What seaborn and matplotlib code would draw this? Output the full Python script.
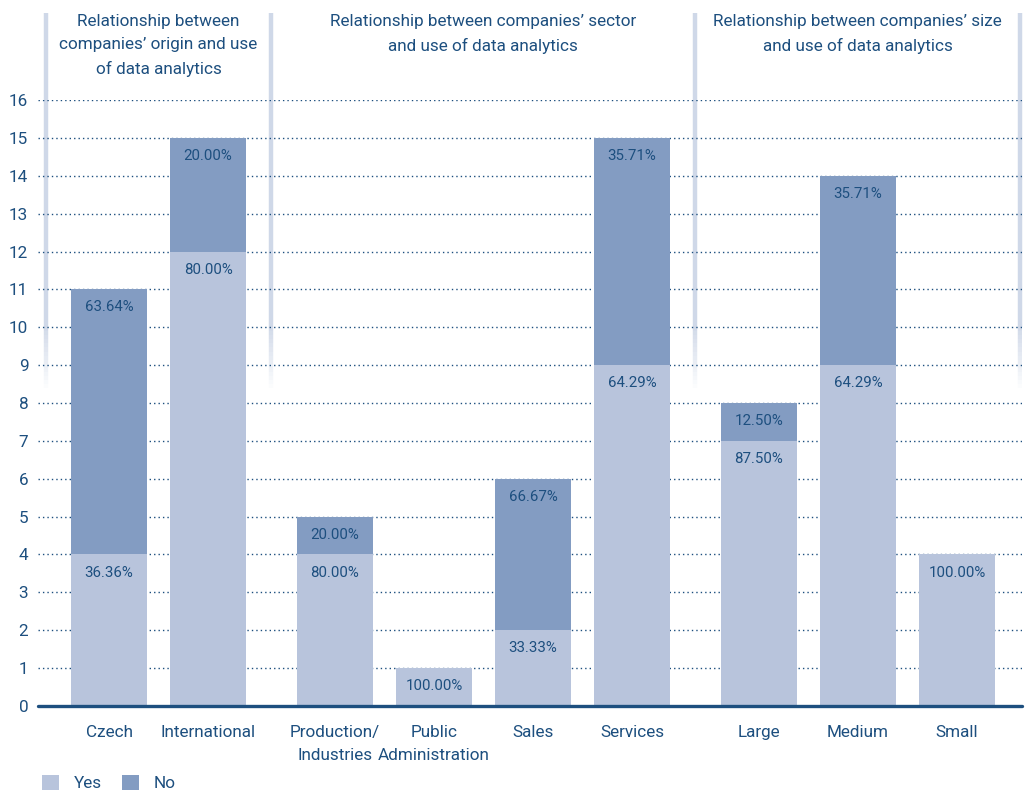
import numpy as np
import pandas as pd
import seaborn as sns
import matplotlib.pyplot as plt
from matplotlib.patches import Patch

# data
categories = ["Czech", "International",
              "Production/\nIndustries", "Public\nAdministration", "Sales", "Services",
              "Large", "Medium", "Small"]
groups = ["origin", "origin",
          "sector", "sector", "sector", "sector",
          "size", "size", "size"]
yes_counts = [4, 12, 4, 1, 2, 9, 7, 9, 4]
no_counts = [7, 3, 1, 0, 4, 6, 1, 5, 0]
# percentage labels as printed in the chart
yes_labels = ["36.36%", "80.00%", "80.00%", "100.00%", "33.33%", "64.29%",
              "87.50%", "64.29%", "100.00%"]
no_labels = ["63.64%", "20.00%", "20.00%", "", "66.67%", "35.71%",
             "12.50%", "35.71%", ""]
group_titles = {
    "origin": "Relationship between\ncompanies\u2019 origin and use\nof data analytics",
    "sector": "Relationship between companies\u2019 sector\nand use of data analytics",
    "size": "Relationship between companies\u2019 size\nand use of data analytics",
}
yticks = list(range(0, 17))

YES = "#b8c4dc"
NO = "#839cc2"
TXT = "#1d4f7f"
SEP = "#cfd8e8"

sns.set_theme(style="white")
plt.rcParams["font.family"] = ["Roboto", "DejaVu Sans"]

# x positions, with an extra gap between the groups
gap = 0.28
pos = []
x = 0.0
for i, g in enumerate(groups):
    if i > 0:
        x += 1 + (gap if g != groups[i - 1] else 0)
    pos.append(round(x, 4))

df = pd.DataFrame({
    "pos": pos,
    "cat": categories,
    "group": groups,
    "yes": yes_counts,
    "no": no_counts,
    "yes_lab": yes_labels,
    "no_lab": no_labels,
})
df["total"] = df["yes"] + df["no"]

fig = plt.figure(figsize=(10.27, 7.92), dpi=100)
ax = fig.add_axes([0.037, 0.1086, 0.958, 0.7651])

sns.barplot(data=df, x="pos", y="total", native_scale=True, color=NO,
            saturation=1, width=0.77, errorbar=None, ax=ax, zorder=3,
            linewidth=0, edgecolor="none")
sns.barplot(data=df, x="pos", y="yes", native_scale=True, color=YES,
            saturation=1, width=0.77, errorbar=None, ax=ax, zorder=3,
            linewidth=0, edgecolor="none")

ax.set_xlim(-0.717, 9.216)
ax.set_ylim(0, 16)
for s in ax.spines.values():
    s.set_visible(False)

# dotted grid
for t in yticks[1:]:
    ax.axhline(t, color=TXT, lw=1.0, ls=(0, (1, 2.2)), zorder=1)
ax.axhline(0, color=TXT, lw=2.4, zorder=5, clip_on=False)

# separators between groups, fading downward
grp_bounds = df.groupby("group", sort=False)["pos"].agg(["min", "max"])
seps = [grp_bounds["min"].iloc[0] - 0.64]
for i in range(len(grp_bounds) - 1):
    seps.append((grp_bounds["max"].iloc[i] + grp_bounds["min"].iloc[i + 1]) / 2)
seps.append(grp_bounds["max"].iloc[-1] + 0.64)
for sx in seps:
    ax.plot([sx, sx], [18.3, 10.0], color=SEP, lw=3.2, zorder=0.5,
            clip_on=False, solid_capstyle="butt")
    steps = np.linspace(10.0, 8.4, 16)
    for k in range(len(steps) - 1):
        a = 1 - (k + 1) / len(steps)
        ax.plot([sx, sx], [steps[k], steps[k + 1]], color=SEP, lw=3.2,
                alpha=a, zorder=0.5, solid_capstyle="butt")

# group titles
for g, title in group_titles.items():
    cx = df.loc[df["group"] == g, "pos"].mean()
    ax.text(cx, 18.27, title, ha="center", va="top", fontsize=12.3,
            color=TXT, linespacing=1.66, clip_on=False)

# percentage labels
for _, r in df.iterrows():
    ax.annotate(r["yes_lab"], (r["pos"], r["yes"]),
                xytext=(0, -13), textcoords="offset points",
                ha="center", va="center", fontsize=10.8, color=TXT, zorder=6)
    if r["no_lab"]:
        ax.annotate(r["no_lab"], (r["pos"], r["total"]),
                    xytext=(0, -13), textcoords="offset points",
                    ha="center", va="center", fontsize=10.8, color=TXT, zorder=6)

ax.set_xticks(df["pos"])
ax.set_xticklabels(df["cat"], fontsize=12.3, color=TXT, linespacing=1.68)
ax.set_yticks(yticks)
ax.set_yticklabels([str(t) for t in yticks], fontsize=12.3, color=TXT)
ax.tick_params(axis="x", length=0, pad=13.5)
ax.tick_params(axis="y", length=0, pad=7)
ax.set_xlabel("")
ax.set_ylabel("")

handles = [Patch(facecolor=YES, edgecolor="none", label="Yes"),
           Patch(facecolor=NO, edgecolor="none", label="No")]
leg = fig.legend(handles=handles, loc="center left",
                 bbox_to_anchor=(0.0409, 1 - 783 / 792), ncol=2, frameon=False,
                 fontsize=12.3, handlelength=1.0, handleheight=1.0,
                 handletextpad=0.85, columnspacing=1.2, borderpad=0, borderaxespad=0)
for t in leg.get_texts():
    t.set_color(TXT)

fig.savefig("out.png", dpi=100, facecolor="white")
